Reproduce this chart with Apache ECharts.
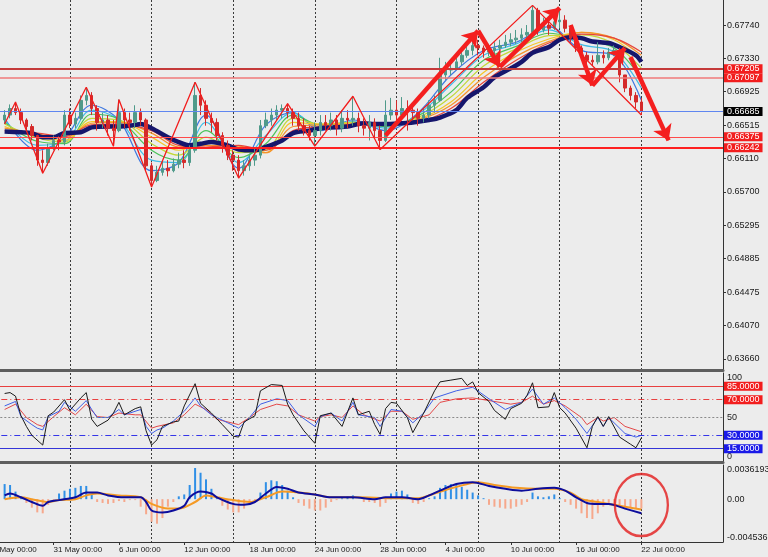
<!DOCTYPE html>
<html><head><meta charset="utf-8">
<script src="https://cdn.jsdelivr.net/npm/echarts/dist/echarts.min.js"></script>
<style>html,body{margin:0;padding:0;background:#ececec}#c{width:768px;height:557px}</style>
</head><body><div id="c"></div>
<script>
// ---------- categories (8-hour slots over trading days) ----------
const tradingDays = ['27 May','28 May','29 May','30 May','31 May','3 Jun','4 Jun','5 Jun','6 Jun','7 Jun','10 Jun','11 Jun','12 Jun','13 Jun','14 Jun','17 Jun','18 Jun','19 Jun','20 Jun','21 Jun','24 Jun','25 Jun','26 Jun','27 Jun','28 Jun','1 Jul','2 Jul','3 Jul','4 Jul','5 Jul','8 Jul','9 Jul','10 Jul','11 Jul','12 Jul','15 Jul','16 Jul','17 Jul','18 Jul','19 Jul','22 Jul','23 Jul','24 Jul','25 Jul','26 Jul','29 Jul'];
const sessionTimes = ['00:00','08:00','16:00'];
const categories = [];
tradingDays.forEach(d => sessionTimes.forEach(t => categories.push(d + ' ' + t)));
categories.length = 136;
const firstBar = 3;

// ---------- price tick labels ----------
const priceTickLabels = ['0.63660','0.64070','0.64475','0.64885','0.65295','0.65700','0.66110','0.66515','0.66925','0.67330','0.67740'];

// ---------- candles (bars 3..120) ----------
const openP = [.6658,.6664,.6672,.6667,.6658,.6650,.6639,.6609,.6606,.6623,.6633,.6631,.6664,.6653,.6660,.6682,.6688,.6672,.6655,.6658,.6648,.6645,.6667,.6658,.6655,.6667,.6658,.6602,.6584,.6594,.6599,.6596,.6604,.6609,.6606,.6621,.6688,.6676,.6660,.6655,.6639,.6627,.6615,.6609,.6596,.6602,.6609,.6615,.6651,.6658,.6664,.6670,.6672,.6667,.6660,.6651,.6645,.6639,.6645,.6655,.6651,.6658,.6648,.6660,.6658,.6660,.6651,.6648,.6655,.6645,.6633,.6664,.6670,.6664,.6672,.6670,.6667,.6660,.6664,.6676,.6682,.6713,.6719,.6721,.6729,.6737,.6743,.6749,.6746,.6741,.6743,.6746,.6749,.6753,.6756,.6758,.6762,.6765,.6792,.6768,.6774,.6770,.6778,.6780,.6770,.6758,.6746,.6737,.6731,.6729,.6737,.6734,.6741,.6743,.6713,.6697,.6688,.6680];
const closeP = [.6664,.6672,.6667,.6658,.6650,.6639,.6609,.6606,.6623,.6633,.6631,.6664,.6653,.6660,.6682,.6688,.6672,.6655,.6658,.6648,.6645,.6667,.6658,.6655,.6667,.6658,.6602,.6584,.6594,.6599,.6596,.6604,.6609,.6606,.6621,.6688,.6676,.6660,.6655,.6639,.6627,.6615,.6609,.6596,.6602,.6609,.6615,.6651,.6658,.6664,.6670,.6672,.6667,.6660,.6651,.6645,.6639,.6645,.6655,.6651,.6658,.6648,.6660,.6658,.6660,.6651,.6648,.6655,.6645,.6633,.6664,.6670,.6664,.6672,.6670,.6667,.6660,.6664,.6676,.6682,.6713,.6719,.6721,.6729,.6737,.6743,.6749,.6746,.6741,.6743,.6746,.6749,.6753,.6756,.6758,.6762,.6765,.6792,.6768,.6774,.6770,.6778,.6780,.6770,.6758,.6746,.6737,.6731,.6729,.6737,.6734,.6741,.6743,.6713,.6697,.6688,.6680,.66685];
const highP = [.6670,.6677,.6680,.6672,.6660,.6653,.6640,.6621,.6629,.6639,.6638,.6670,.6672,.6667,.6688,.6698,.6692,.6676,.6667,.6664,.6658,.6683,.6672,.6667,.6676,.6672,.6660,.6606,.6602,.6609,.6609,.6611,.6618,.6621,.6627,.6704,.6697,.6682,.6667,.6660,.6643,.6633,.6621,.6615,.6609,.6615,.6623,.6658,.6667,.6672,.6676,.6677,.6678,.6672,.6667,.6660,.6651,.6655,.6664,.6664,.6667,.6664,.6670,.6670,.6687,.6667,.6660,.6664,.6660,.6651,.6682,.6685,.6682,.6686,.6682,.6676,.6672,.6672,.6682,.6688,.6734,.6729,.6731,.6737,.6746,.6753,.6758,.6756,.6749,.6751,.6753,.6756,.6762,.6764,.6768,.6770,.6774,.6798,.6795,.6783,.6783,.6790,.6792,.6786,.6774,.6762,.6749,.6741,.6737,.6753,.6743,.6746,.6749,.6746,.6713,.6700,.6692,.6685];
const lowP = [.6653,.6660,.6664,.6653,.6645,.6633,.6602,.6593,.6602,.6621,.6621,.6627,.6648,.6648,.6658,.6676,.6664,.6645,.6648,.6639,.6626,.6643,.6648,.6645,.6648,.6651,.6596,.6576,.6582,.6590,.6589,.6594,.6599,.6599,.6602,.6618,.6664,.6651,.6643,.6633,.6618,.6609,.6596,.6587,.6590,.6596,.6602,.6611,.6648,.6651,.6658,.6660,.6660,.6651,.6645,.6639,.6633,.6626,.6639,.6645,.6645,.6639,.6643,.6648,.6651,.6643,.6639,.6633,.6636,.6622,.6631,.6658,.6651,.6660,.6645,.6658,.6651,.6655,.6660,.6667,.6680,.6707,.6713,.6719,.6725,.6734,.6737,.6737,.6734,.6736,.6737,.6741,.6746,.6748,.6751,.6753,.6756,.6761,.6762,.6765,.6762,.6768,.6770,.6765,.6753,.6741,.6731,.6725,.6724,.6726,.6727,.6731,.6736,.6704,.6692,.6682,.6672,.6664];

// ---------- moving averages (read at key bars) ----------
const rainbowIdx = [3,9,14,19,24,30,35,40,46,51,56,61,67,73,79,85,91,97,103,109,115,120];
const maBlue   = [.6660,.6621,.6636,.6676,.6658,.6596,.6606,.6664,.6599,.6652,.6667,.6645,.6658,.6645,.6667,.6713,.6743,.6753,.6772,.6743,.6737,.6682];
const maCyan   = [.6658,.6627,.6631,.6670,.6658,.6609,.6606,.6655,.6606,.6639,.6667,.6648,.6656,.6648,.6665,.6701,.6737,.6751,.6768,.6750,.6741,.6697];
const maGreen  = [.6655,.6632,.6629,.6665,.6659,.6621,.6609,.6645,.6612,.6629,.6664,.6652,.6655,.6650,.6663,.6692,.6731,.6748,.6764,.6756,.6746,.6709];
const maYellow = [.6653,.6636,.6631,.6660,.6658,.6629,.6615,.6637,.6618,.6621,.6660,.6653,.6655,.6652,.6661,.6686,.6724,.6745,.6761,.6762,.6751,.6721];
const maOrange = [.6650,.6638,.6633,.6656,.6656,.6637,.6621,.6631,.6623,.6618,.6655,.6653,.6654,.6653,.6659,.6680,.6716,.6741,.6757,.6765,.6756,.6731];
const maSalmon = [.6648,.6641,.6636,.6654,.6655,.6642,.6625,.6627,.6626,.6618,.6650,.6652,.6653,.6654,.6658,.6676,.6710,.6736,.6754,.6765,.6758,.6737];
const maRed    = [.6645,.6642,.6638,.6652,.6653,.6645,.6627,.6625,.6627,.6621,.6645,.6650,.6652,.6654,.6656,.6672,.6704,.6731,.6752,.6763,.6758,.6741];
const slowMA = [[3,.6644],[6,.6643],[8,.6642],[10,.6637],[12,.6637],[14,.6642],[17,.6643],[19,.6649],[22,.6650],[24,.6650],[27,.6652],[28,.6653],[30,.6648],[33,.6637],[35,.6631],[37,.6627],[39,.6629],[41,.6631],[44,.6627],[46,.6622],[49,.6621],[51,.6625],[54,.6633],[56,.6642],[59,.6645],[61,.6648],[64,.6649],[66,.6650],[69,.6654],[71,.6653],[73,.6653],[76,.6654],[78,.6655],[81,.6658],[83,.6661],[86,.6670],[88,.6685],[91,.6698],[93,.6710],[96,.6721],[98,.6729],[100,.6740],[103,.6747],[105,.6756],[107,.6759],[109,.6758],[111,.6754],[114,.6752],[116,.6747],[119,.6737],[120,.6729]];

// ---------- annotations ----------
const zigzag = [[3,.6653],[5,.6680],[10,.6593],[18,.6698],[23,.6626],[24,.6683],[30,.6576],[38,.6704],[46,.6587],[55,.6678],[60,.6626],[67,.6687],[72,.6622],[100,.6798],[120,.6664]];
const trendArrows = [[73,.6639,90,.6767],[90,.6767,94,.6723],[94,.6723,105,.6795],[107,.6774,111,.6700],[111,.6700,117,.6746],[118,.6735,125,.6633]];
const priceLevels = [0.67205, 0.67097, 0.66685, 0.66375, 0.66242];

// ---------- RSI ----------
const rsiLevels = [85, 70, 50, 30, 15];
const rsiFast = [[3,77],[4,78],[5,74],[6,52],[7,40],[8,30],[10,19],[11,52],[12,56],[14,70],[15,58],[17,72],[18,78],[19,48],[20,40],[22,47],[23,55],[24,67],[25,53],[27,60],[28,62],[29,35],[30,19],[31,25],[32,40],[34,45],[35,46],[36,63],[38,88],[39,66],[41,55],[43,42],[45,29],[46,28],[47,45],[49,52],[50,80],[52,87],[54,86],[55,65],[56,53],[58,35],[60,21],[61,52],[63,55],[65,40],[67,72],[68,53],[70,57],[71,42],[72,31],[73,60],[74,67],[75,66],[77,50],[78,33],[80,55],[82,80],[83,90],[85,92],[87,94],[88,86],[89,90],[90,78],[92,68],[93,58],[95,48],[96,60],[98,66],[99,75],[100,89],[101,61],[103,62],[104,78],[105,61],[106,55],[108,38],[110,16],[111,40],[112,51],[113,40],[114,51],[116,28],[118,20],[119,16],[120,27]];
const rsiMid = [[3,63],[5,68],[6,51],[8,42],[9,38],[10,36],[11,51],[13,57],[14,67],[16,57],[18,69],[19,59],[20,50],[22,50],[24,59],[25,53],[28,59],[29,40],[30,32],[31,36],[32,38],[34,46],[36,57],[38,72],[39,63],[41,53],[44,44],[46,38],[48,50],[50,65],[53,71],[55,69],[57,53],[60,40],[61,51],[63,55],[65,46],[67,67],[68,53],[71,50],[72,40],[74,59],[76,57],[78,44],[80,55],[82,72],[86,80],[89,84],[92,71],[95,59],[98,67],[100,82],[102,65],[104,72],[106,61],[108,48],[110,32],[112,50],[113,40],[114,50],[117,32],[119,28],[120,30]];
const rsiSlow = [[3,59],[5,65],[7,50],[9,42],[10,40],[12,51],[14,61],[16,53],[18,65],[20,51],[22,50],[24,55],[27,53],[28,53],[30,38],[31,40],[34,44],[36,53],[38,65],[40,59],[42,48],[46,42],[48,50],[50,59],[53,65],[55,63],[57,53],[60,46],[61,51],[63,53],[65,50],[67,63],[69,53],[72,46],[74,57],[76,57],[78,48],[81,53],[83,67],[86,71],[89,72],[92,69],[96,65],[98,67],[100,74],[102,65],[104,69],[106,63],[109,50],[110,42],[112,50],[113,46],[115,50],[117,40],[119,36],[120,34]];

// ---------- MACD ----------
const macdAxisLabels = ['-0.0045367','0.00','0.0036193'];
const macdHist = [0.0016,0.0015,0.0008,0.0002,-0.0004,-0.0009,-0.0014,-0.0015,-0.0006,-0.0001,0.0006,0.0009,0.0011,0.0012,0.0014,0.0014,0.0005,-0.0003,-0.0004,-0.0005,-0.0004,-0.0002,-0.0003,-0.0001,-0.0001,-0.0008,-0.0016,-0.0024,-0.0026,-0.0020,-0.0008,-0.0003,0.0003,0.0005,0.0015,0.0033,0.0028,0.0021,0.0011,0.0002,-0.0007,-0.0011,-0.0014,-0.0014,-0.0010,-0.0005,-0.0002,0.0007,0.0018,0.0020,0.0019,0.0015,0.0009,0.0002,-0.0004,-0.0007,-0.0010,-0.0012,-0.0012,-0.0009,-0.0003,-0.0001,0.0001,0.0003,0.0004,0.0000,-0.0003,-0.0003,-0.0004,-0.0008,-0.0004,0.0006,0.0008,0.0009,0.0005,-0.0004,-0.0005,-0.0003,0.0001,0.0003,0.0012,0.0015,0.0016,0.0016,0.0013,0.0010,0.0007,0.0004,0.0001,-0.0006,-0.0008,-0.0009,-0.0010,-0.0010,-0.0008,-0.0006,-0.0003,0.0007,0.0003,0.0002,0.0003,0.0005,0.0001,-0.0003,-0.0006,-0.0010,-0.0015,-0.0020,-0.0021,-0.0015,-0.0008,-0.0006,-0.0006,-0.0007,-0.0008,-0.0009,-0.0010,-0.0010];
const macdMain = [[3,0.0004],[4,0.0006],[6,0.0002],[8,-0.0003],[10,-0.0007],[11,-0.0003],[13,-0.0001],[16,0.0002],[18,0.0007],[20,0.0007],[22,0.0004],[25,0.0002],[28,0.0002],[29,-0.0003],[30,-0.0012],[32,-0.0014],[34,-0.0012],[36,-0.0007],[37,0.0002],[39,0.0008],[41,0.0006],[42,0.0002],[45,-0.0005],[47,-0.0006],[49,-0.0003],[51,0.0006],[53,0.0013],[55,0.0011],[57,0.0007],[60,0.0005],[63,0.0002],[67,0.0002],[71,0.0000],[73,0.0002],[76,0.0002],[79,0.0000],[81,0.0004],[83,0.0009],[86,0.0016],[89,0.0018],[92,0.0014],[95,0.0011],[98,0.0009],[101,0.0011],[104,0.0012],[106,0.0009],[108,0.0002],[110,-0.0004],[112,-0.0005],[114,-0.0005],[117,-0.0010],[120,-0.0015]];
const macdSignal = [[3,0.0000],[6,0.0002],[8,0.0000],[11,-0.0003],[13,-0.0001],[16,0.0000],[18,0.0004],[20,0.0006],[24,0.0004],[28,0.0002],[30,-0.0005],[33,-0.0010],[35,-0.0010],[38,-0.0003],[40,0.0004],[42,0.0002],[45,-0.0001],[48,-0.0003],[51,0.0002],[54,0.0008],[57,0.0007],[60,0.0005],[63,0.0002],[68,0.0002],[74,0.0001],[79,0.0001],[82,0.0006],[86,0.0013],[90,0.0018],[93,0.0015],[97,0.0012],[101,0.0011],[104,0.0011],[107,0.0007],[109,0.0000],[112,-0.0003],[114,-0.0005],[117,-0.0008],[120,-0.0011]];
const circleMark = [120, -0.00062];

// ---------- build ----------
const FONT = 'Liberation Sans';
const zip = (idx, vals) => idx.map((k, j) => [k, vals[j]]);
const candleData = openP.map((o, j) => [firstBar + j, o, closeP[j], lowP[j], highP[j]]);
const histData = macdHist.map((v, j) => [firstBar + j, v]);
const showLabel = i => i % 12 === 0 && i <= 120;
const weekLine = i => i > 0 && i % 15 === 0 && i <= 120;

function xAx(gi, withLabels, band) {
  return {
    type: 'category', gridIndex: gi, data: categories, boundaryGap: false,
    axisLine: { show: true, onZero: false, lineStyle: band ? { color: '#5e5e5e', width: 3 } : { color: '#333', width: 1 } },
    axisTick: withLabels ? { show: true, interval: i => showLabel(i), length: 3, lineStyle: { color: '#333' } } : { show: false },
    axisLabel: withLabels ? { show: true, interval: i => showLabel(i), align: 'left', fontSize: 8, color: '#1a1a1a', margin: 4, fontFamily: FONT } : { show: false },
    splitLine: { show: true, interval: i => weekLine(i), lineStyle: { color: '#3a3a3a', type: [2, 2], width: 1 } }
  };
}

const levelStyles = [
  { line: { color: '#c43a3a', width: 2 }, box: '#f21d1d' },
  { line: { color: '#f07a7a', width: 1.5 }, box: '#f21d1d' },
  { line: { color: '#5f86f0', width: 1.2 }, box: '#000000' },
  { line: { color: '#ff4a4a', width: 1.2 }, box: '#f21d1d' },
  { line: { color: '#ff2020', width: 2 }, box: '#f21d1d' }
];
const boxLabel = (txt, bg) => ({ show: true, position: 'end', distance: 1, formatter: () => txt, backgroundColor: bg, color: '#fff', padding: [0, 3], lineHeight: 9, fontSize: 9, fontFamily: FONT });

const rsiStyles = [
  { line: { color: '#e84040', width: 1, type: 'solid' }, box: '#f21d1d' },
  { line: { color: '#e84040', width: 1, type: [6, 3, 1, 3] }, box: '#f21d1d' },
  { line: { color: '#8a8a8a', width: 1, type: [2, 2] }, box: null },
  { line: { color: '#3535e8', width: 1.2, type: [6, 3, 1, 3] }, box: '#1a1ae8' },
  { line: { color: '#3535d8', width: 1.2, type: 'solid' }, box: '#1a1ae8' }
];

const rainbowSets = [maBlue, maCyan, maGreen, maYellow, maOrange, maSalmon, maRed];
const rainbowColors = ['#3f78e0', '#3fbde6', '#4cc45a', '#c2d838', '#f4c628', '#f5922c', '#e6443a'];

const series = [];
rainbowSets.forEach((vals, k) => series.push({
  type: 'line', xAxisIndex: 0, yAxisIndex: 0, data: zip(rainbowIdx, vals), showSymbol: false, smooth: 0.35,
  lineStyle: { color: rainbowColors[k], width: 1.2 }, silent: true, z: 2
}));
series.push({ type: 'line', xAxisIndex: 0, yAxisIndex: 0, data: slowMA, showSymbol: false, smooth: 0.3,
  lineStyle: { color: '#16166c', width: 4.5 }, silent: true, z: 3 });
series.push({
  type: 'candlestick', xAxisIndex: 0, yAxisIndex: 0, data: candleData, encode: { x: 0, y: [1, 2, 3, 4] }, barWidth: 3,
  itemStyle: { color: '#4f9a8a', color0: '#d42a2a', borderColor: '#4f9a8a', borderColor0: '#d42a2a', borderWidth: 1 }, z: 4, silent: true
});
// horizontal price levels
series.push({
  type: 'line', xAxisIndex: 0, yAxisIndex: 0, data: [], z: 5, silent: true,
  markLine: { silent: true, symbol: ['none', 'none'], animation: false, precision: 5,
    data: priceLevels.map((v, k) => ({ yAxis: v, lineStyle: Object.assign({ type: 'solid', opacity: 1 }, levelStyles[k].line), label: boxLabel(v.toFixed(5), levelStyles[k].box) })) }
});
series.push({
  type: 'line', xAxisIndex: 0, yAxisIndex: 0, data: zigzag, showSymbol: false, lineStyle: { color: '#f21c1c', width: 1.3 }, z: 6, silent: true,
  markLine: { silent: true, symbol: ['none', 'arrow'], symbolSize: 15, animation: false, precision: 5, label: { show: false },
    lineStyle: { color: '#f41f1f', width: 4.5, type: 'solid' },
    data: trendArrows.map(a => [{ coord: [a[0], a[1]] }, { coord: [a[2], a[3]] }]) }
});
// RSI
series.push({ type: 'line', xAxisIndex: 1, yAxisIndex: 1, data: rsiSlow, showSymbol: false, lineStyle: { color: '#e44848', width: 1 }, z: 3, silent: true });
series.push({ type: 'line', xAxisIndex: 1, yAxisIndex: 1, data: rsiMid, showSymbol: false, lineStyle: { color: '#3f5fe6', width: 1 }, z: 4, silent: true });
series.push({ type: 'line', xAxisIndex: 1, yAxisIndex: 1, data: rsiFast, showSymbol: false, lineStyle: { color: '#1a1a1a', width: 1 }, z: 5, silent: true,
  markLine: { silent: true, symbol: ['none', 'none'], animation: false, precision: 4,
    data: rsiLevels.map((v, k) => ({ yAxis: v, lineStyle: Object.assign({ opacity: 1 }, rsiStyles[k].line), label: rsiStyles[k].box ? boxLabel(v.toFixed(4), rsiStyles[k].box) : { show: false } })) }
});
// MACD
series.push({ type: 'bar', xAxisIndex: 2, yAxisIndex: 2, data: histData, barWidth: 2, silent: true,
  itemStyle: { color: p => p.value[1] >= 0 ? '#2f8fe6' : '#f6a88c' }, z: 2 });
series.push({ type: 'line', xAxisIndex: 2, yAxisIndex: 2, data: macdSignal, showSymbol: false, smooth: 0.3, lineStyle: { color: '#f59a24', width: 2 }, z: 3, silent: true });
series.push({ type: 'line', xAxisIndex: 2, yAxisIndex: 2, data: macdMain, showSymbol: false, smooth: 0.3, lineStyle: { color: '#0d0d9c', width: 2 }, z: 4, silent: true });
series.push({ type: 'scatter', xAxisIndex: 2, yAxisIndex: 2, data: [circleMark], symbol: 'circle', symbolSize: [53, 62], silent: true, z: 6,
  itemStyle: { color: 'rgba(0,0,0,0)', borderColor: '#e31b1b', borderWidth: 2.5 } });

const yTickValues = priceTickLabels.map(Number);
const axisLineY = { show: true, lineStyle: { color: '#333', width: 1 } };

const option = {
  backgroundColor: '#ececec',
  animation: false,
  textStyle: { fontFamily: FONT },
  grid: [
    { left: -11.7, right: 45, top: 0, height: 370, outerBoundsMode: 'none' },
    { left: -11.7, right: 45, top: 373, height: 89, outerBoundsMode: 'none' },
    { left: -11.7, right: 45, top: 465, height: 77, outerBoundsMode: 'none' }
  ],
  xAxis: [xAx(0, false, true), xAx(1, false, true), xAx(2, true, false)],
  yAxis: [
    { type: 'value', gridIndex: 0, position: 'right', min: 0.63525, max: 0.68046,
      axisLine: axisLineY, axisTick: { show: true, length: 3, customValues: yTickValues, lineStyle: { color: '#333' } },
      axisLabel: { customValues: yTickValues, formatter: v => v.toFixed(5), fontSize: 9, color: '#1a1a1a', margin: 4, fontFamily: FONT },
      splitLine: { show: false } },
    { type: 'value', gridIndex: 1, position: 'right', min: 0, max: 100,
      axisLine: axisLineY, axisTick: { show: false },
      axisLabel: { customValues: [0, 50, 100], margin: 4, fontSize: 9, color: '#1a1a1a', fontFamily: FONT,
        formatter: v => v >= 100 ? '{t|100}' : (v <= 0 ? '{b|0}' : '50'),
        rich: { t: { padding: [10, 0, 0, 0], fontSize: 9, color: '#1a1a1a', fontFamily: FONT }, b: { padding: [0, 0, 10, 0], fontSize: 9, color: '#1a1a1a', fontFamily: FONT } } },
      splitLine: { show: false } },
    { type: 'value', gridIndex: 2, position: 'right', min: Number(macdAxisLabels[0]), max: Number(macdAxisLabels[2]),
      axisLine: axisLineY, axisTick: { show: false },
      axisLabel: { customValues: macdAxisLabels.map(Number), margin: 4, fontSize: 9, color: '#1a1a1a', fontFamily: FONT,
        formatter: v => v > 0 ? '{t|' + macdAxisLabels[2] + '}' : (v < 0 ? '{b|' + macdAxisLabels[0] + '}' : macdAxisLabels[1]),
        rich: { t: { padding: [9, 0, 0, 0], fontSize: 9, color: '#1a1a1a', fontFamily: FONT }, b: { padding: [0, 0, 9, 0], fontSize: 9, color: '#1a1a1a', fontFamily: FONT } } },
      splitLine: { show: false } }
  ],
  series: series
};
const chart = echarts.init(document.getElementById('c'));
chart.setOption(option);
</script></body></html>
